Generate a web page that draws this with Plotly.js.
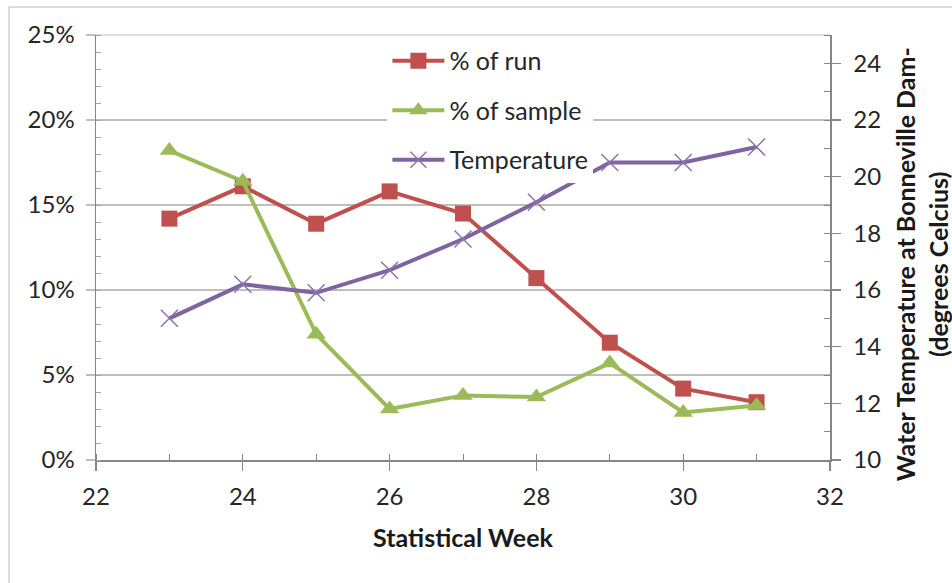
<!DOCTYPE html>
<html>
<head>
<meta charset="utf-8">
<script src="https://cdn.plot.ly/plotly-3.0.1.min.js"></script>
<style>
  html, body { margin: 0; padding: 0; background: #ffffff; }
  #chart { width: 952px; height: 583px; }
</style>
</head>
<body>
<div id="chart"></div>
<script>
// Statistical weeks sampled
const weeks = [23, 24, 25, 26, 27, 28, 29, 30, 31];

// Share of the run passing each week (%)
const pctRun = [14.2, 16.1, 13.9, 15.8, 14.5, 10.7, 6.9, 4.2, 3.4];

// Share of the sample collected each week (%)
const pctSample = [18.2, 16.4, 7.4, 3.0, 3.8, 3.7, 5.7, 2.8, 3.2];

// Water temperature at Bonneville Dam (degrees Celsius)
const temperature = [15.0, 16.2, 15.9, 16.7, 17.8, 19.1, 20.5, 20.5, 21.05];

const seriesNames = ['% of run', '% of sample', 'Temperature'];

const FONT = 'Lato, "Open Sans", "DejaVu Sans", sans-serif';
const AXIS_GREY = '#868686';
const GRID_GREY = '#bfbfbf';
const TEXT = '#262626';

const traces = [
  {
    x: weeks, y: pctRun, name: seriesNames[0], legendgroup: 'a',
    type: 'scatter', mode: 'lines+markers',
    line: { color: '#c0504d', width: 4 },
    marker: { symbol: 'square', size: 16, color: '#c0504d' },
    xaxis: 'x', yaxis: 'y'
  },
  {
    x: weeks, y: pctSample, name: seriesNames[1], legendgroup: 'b',
    type: 'scatter', mode: 'lines+markers',
    line: { color: '#9bbb59', width: 4 },
    marker: { symbol: 'triangle-up', size: 17, color: '#9bbb59' },
    xaxis: 'x', yaxis: 'y'
  },
  {
    x: weeks, y: temperature, name: seriesNames[2], legendgroup: 'c',
    type: 'scatter', mode: 'lines+markers',
    line: { color: '#8064a2', width: 4 },
    marker: { symbol: 'x-thin-open', size: 17, color: '#8a74a8', line: { width: 1.5, color: '#8a74a8' } },
    xaxis: 'x', yaxis: 'y2'
  }
];

const layout = {
  width: 952, height: 583,
  margin: { l: 96, r: 122, t: 35, b: 123 },
  paper_bgcolor: '#ffffff',
  plot_bgcolor: '#ffffff',
  font: { family: FONT, size: 24, color: TEXT },
  showlegend: true,
  legend: {
    x: 0.397, y: 0.993, xanchor: 'left', yanchor: 'top',
    bgcolor: 'rgba(255,255,255,1)',
    font: { family: FONT, size: 25, color: TEXT },
    tracegroupgap: 14,
    itemwidth: 52
  },
  xaxis: {
    range: [22, 32], dtick: 2, tick0: 22,
    showgrid: false, zeroline: false,
    showline: true, linecolor: AXIS_GREY, linewidth: 1.5,
    ticks: 'outside', ticklen: 9, tickcolor: AXIS_GREY, tickwidth: 1.2,
    minor: { dtick: 1, ticks: 'inside', ticklen: 6, tickcolor: AXIS_GREY, tickwidth: 1, showgrid: false },
    tickfont: { family: FONT, size: 24, color: TEXT },
    ticklabelstandoff: 6,
    title: { text: '<b>Statistical Week</b>', font: { family: FONT, size: 25, color: '#1a1a1a' }, standoff: 20 }
  },
  // Inner half of the crossing major ticks on the week axis
  xaxis2: {
    overlaying: 'x', anchor: 'y', side: 'bottom',
    range: [22, 32], dtick: 2, tick0: 22,
    showgrid: false, zeroline: false, showline: false, showticklabels: false,
    ticks: 'inside', ticklen: 5, tickcolor: AXIS_GREY, tickwidth: 1.2
  },
  yaxis: {
    range: [0, 25], dtick: 5, tick0: 0, ticksuffix: '%',
    showgrid: true, gridcolor: GRID_GREY, gridwidth: 1.2, zeroline: false,
    showline: true, linecolor: AXIS_GREY, linewidth: 1.5,
    ticks: 'outside', ticklen: 9, tickcolor: GRID_GREY, tickwidth: 1.2,
    minor: { dtick: 1, ticks: 'inside', ticklen: 5, tickcolor: '#a6a6a6', tickwidth: 1, showgrid: false },
    tickfont: { family: FONT, size: 24, color: TEXT },
    ticklabelstandoff: 6
  },
  yaxis2: {
    overlaying: 'y', side: 'right', anchor: 'x',
    range: [10, 25], dtick: 2, tick0: 10,
    showgrid: false, zeroline: false,
    showline: true, linecolor: AXIS_GREY, linewidth: 1.5,
    ticks: 'outside', ticklen: 9, tickcolor: AXIS_GREY, tickwidth: 1.2,
    minor: { dtick: 1, ticks: 'inside', ticklen: 6, tickcolor: AXIS_GREY, tickwidth: 1, showgrid: false },
    tickfont: { family: FONT, size: 24, color: TEXT },
    ticklabelstandoff: 8
  },
  // Inner half of the crossing major ticks on the temperature axis
  yaxis3: {
    overlaying: 'y', side: 'right', anchor: 'x',
    range: [10, 25], dtick: 2, tick0: 10,
    showgrid: false, zeroline: false, showline: false, showticklabels: false,
    ticks: 'inside', ticklen: 5, tickcolor: AXIS_GREY, tickwidth: 1.2
  },
  annotations: [
    // temperature axis title, set a little below the axis centre
    {
      xref: 'paper', yref: 'paper', x: 1.125, y: 0.46,
      xanchor: 'center', yanchor: 'middle', textangle: -90, showarrow: false, align: 'center',
      text: '<b>Water Temperature at Bonneville Dam-<br>(degrees Celcius)</b>',
      font: { family: FONT, size: 25, color: '#1a1a1a' }
    }
  ],
  shapes: [
    // top gridline at the 25% edge of the plot
    { type: 'line', xref: 'paper', yref: 'paper', x0: -0.012, x1: 1, y0: 1, y1: 1,
      line: { color: GRID_GREY, width: 1.2 }, layer: 'below' },
    // chart-area frame
    { type: 'line', xref: 'paper', yref: 'paper', x0: -0.1185, x1: 1.2, y0: 1.066, y1: 1.066,
      line: { color: '#d0d0d0', width: 1.5 } },
    { type: 'line', xref: 'paper', yref: 'paper', x0: -0.1185, x1: -0.1185, y0: 1.066, y1: -0.35,
      line: { color: '#d0d0d0', width: 1.5 } }
  ]
};

Plotly.newPlot('chart', traces, layout, { displayModeBar: false, staticPlot: true });
</script>
</body>
</html>
